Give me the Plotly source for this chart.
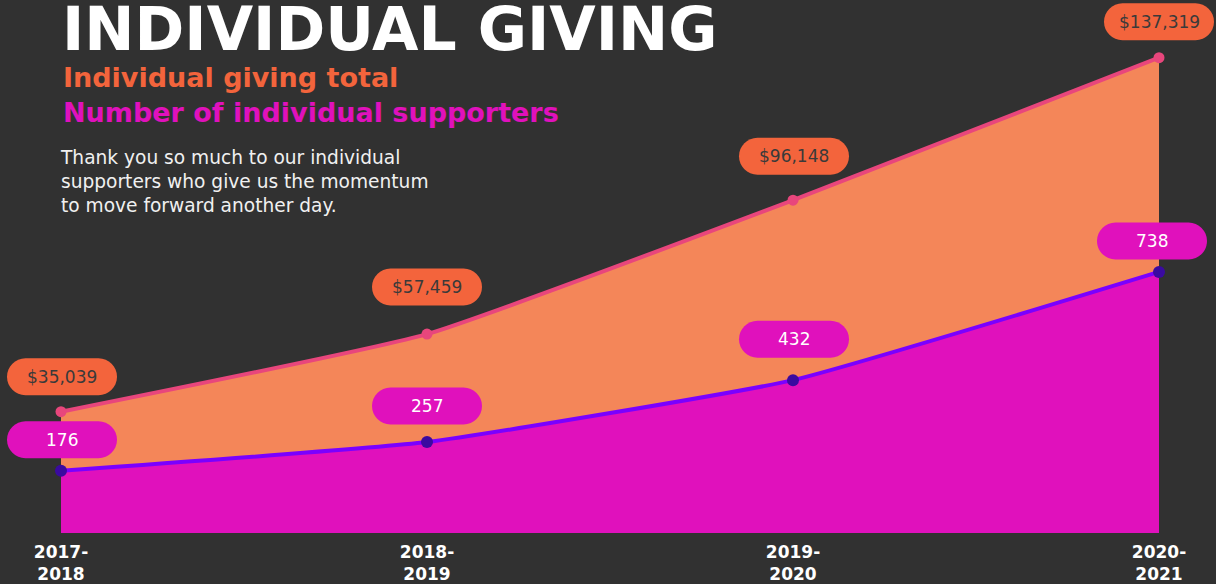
import plotly.graph_objects as go

years = ["2017-<br>2018", "2018-<br>2019", "2019-<br>2020", "2020-<br>2021"]
giving_total = [35039, 57459, 96148, 137319]
supporters = [176, 257, 432, 738]
giving_labels = ["$35,039", "$57,459", "$96,148", "$137,319"]
supporter_labels = ["176", "257", "432", "738"]

# pill offsets (pixels) relative to each point
giving_off = [(1, 35), (0, 47), (1, 44), (0, 36)]
supp_off = [(1, 31), (0, 36), (1, 41), (-7, 31)]

BG = "#313131"
ORANGE_FILL = "#F48659"
ORANGE_PILL = "#F3643C"
PINK_LINE = "#E8467C"
MAGENTA = "#E011BC"
PURPLE_LINE = "#7A00FF"
PURPLE_DOT = "#3A0AA0"

W, H = 1216, 584
B = 51                      # room for the year labels
PH = H - B                  # plot height (plot area spans full width/top)
X0, X3 = 61, 1159           # pixel of first / last year
ppx = (X3 - X0) / 3

xs = list(range(len(years)))

fig = go.Figure()
fig.add_trace(go.Scatter(
    x=xs, y=giving_total, yaxis="y", mode="lines+markers",
    line=dict(color=PINK_LINE, width=4, shape="spline", smoothing=0.4),
    marker=dict(color=PINK_LINE, size=11),
    fill="tozeroy", fillcolor=ORANGE_FILL, hoverinfo="skip"))
fig.add_trace(go.Scatter(
    x=xs, y=supporters, yaxis="y2", mode="lines+markers",
    line=dict(color=PURPLE_LINE, width=4, shape="spline", smoothing=0.4),
    marker=dict(color=PURPLE_DOT, size=12),
    fill="tozeroy", fillcolor=MAGENTA, hoverinfo="skip"))


def pill(dx, dy, w=110, h=37):
    r = h / 2
    k = 0.5523 * r
    l, rt = dx - w / 2, dx + w / 2
    b, t = dy - h / 2, dy + h / 2
    return (f"M{l + r},{b} L{rt - r},{b} "
            f"C{rt - r + k},{b} {rt},{dy - k} {rt},{dy} "
            f"C{rt},{dy + k} {rt - r + k},{t} {rt - r},{t} "
            f"L{l + r},{t} "
            f"C{l + r - k},{t} {l},{dy + k} {l},{dy} "
            f"C{l},{dy - k} {l + r - k},{b} {l + r},{b} Z")


for i in xs:
    for vals, offs, labels, yr, col, tcol in (
            (giving_total, giving_off, giving_labels, "y", ORANGE_PILL, "#3a3a3a"),
            (supporters, supp_off, supporter_labels, "y2", MAGENTA, "#ffffff")):
        dx, dy = offs[i]
        fig.add_shape(type="path", xref="x", yref=yr, xsizemode="pixel", ysizemode="pixel",
                      xanchor=i, yanchor=vals[i], path=pill(dx, dy),
                      fillcolor=col, line=dict(width=0), layer="above")
        fig.add_annotation(x=i, y=vals[i], xref="x", yref=yr, xshift=dx, yshift=dy,
                           text=labels[i], showarrow=False,
                           font=dict(family="DejaVu Sans", size=17, color=tcol))


def py(p):
    return (PH - p) / PH


def px_(p):
    return p / W


fig.add_annotation(xref="paper", yref="paper", x=px_(60), y=py(-8), xanchor="left", yanchor="top",
                   text="<b>INDIVIDUAL GIVING</b>", showarrow=False,
                   font=dict(family="DejaVu Sans", size=60, color="#ffffff"))
fig.add_annotation(xref="paper", yref="paper", x=px_(61), y=py(60), xanchor="left", yanchor="top",
                   text="<b>Individual giving total</b>", showarrow=False,
                   font=dict(family="DejaVu Sans", size=27, color=ORANGE_PILL))
fig.add_annotation(xref="paper", yref="paper", x=px_(61), y=py(95), xanchor="left", yanchor="top",
                   text="<b>Number of individual supporters</b>", showarrow=False,
                   font=dict(family="DejaVu Sans", size=27, color=MAGENTA))
fig.add_annotation(xref="paper", yref="paper", x=px_(58), y=py(145), xanchor="left", yanchor="top",
                   text="Thank you so much to our individual<br>supporters who give us the momentum<br>to move forward another day.",
                   align="left", showarrow=False,
                   font=dict(family="DejaVu Sans", size=18.6, color="#f0f0f0"))

fig.update_layout(
    width=W, height=H,
    margin=dict(l=0, r=0, t=0, b=B, pad=0),
    paper_bgcolor=BG, plot_bgcolor=BG,
    showlegend=False,
    xaxis=dict(range=[-X0 / ppx, 3 + (W - X3) / ppx], tickvals=xs,
               ticktext=[f"<b>{y}</b>" for y in years],
               showgrid=False, zeroline=False, showline=False, ticks="",
               automargin=False, ticklabelstandoff=7,
               tickfont=dict(family="DejaVu Sans", size=17, color="#ffffff")),
    yaxis=dict(range=[0, 148200 * PH / 513], visible=False, showgrid=False, zeroline=False),
    yaxis2=dict(range=[0, 1450 * PH / 513], overlaying="y", visible=False,
                showgrid=False, zeroline=False),
)

fig.write_html("out.html", config={"displayModeBar": False},
               post_script="document.body.style.margin='0';")
